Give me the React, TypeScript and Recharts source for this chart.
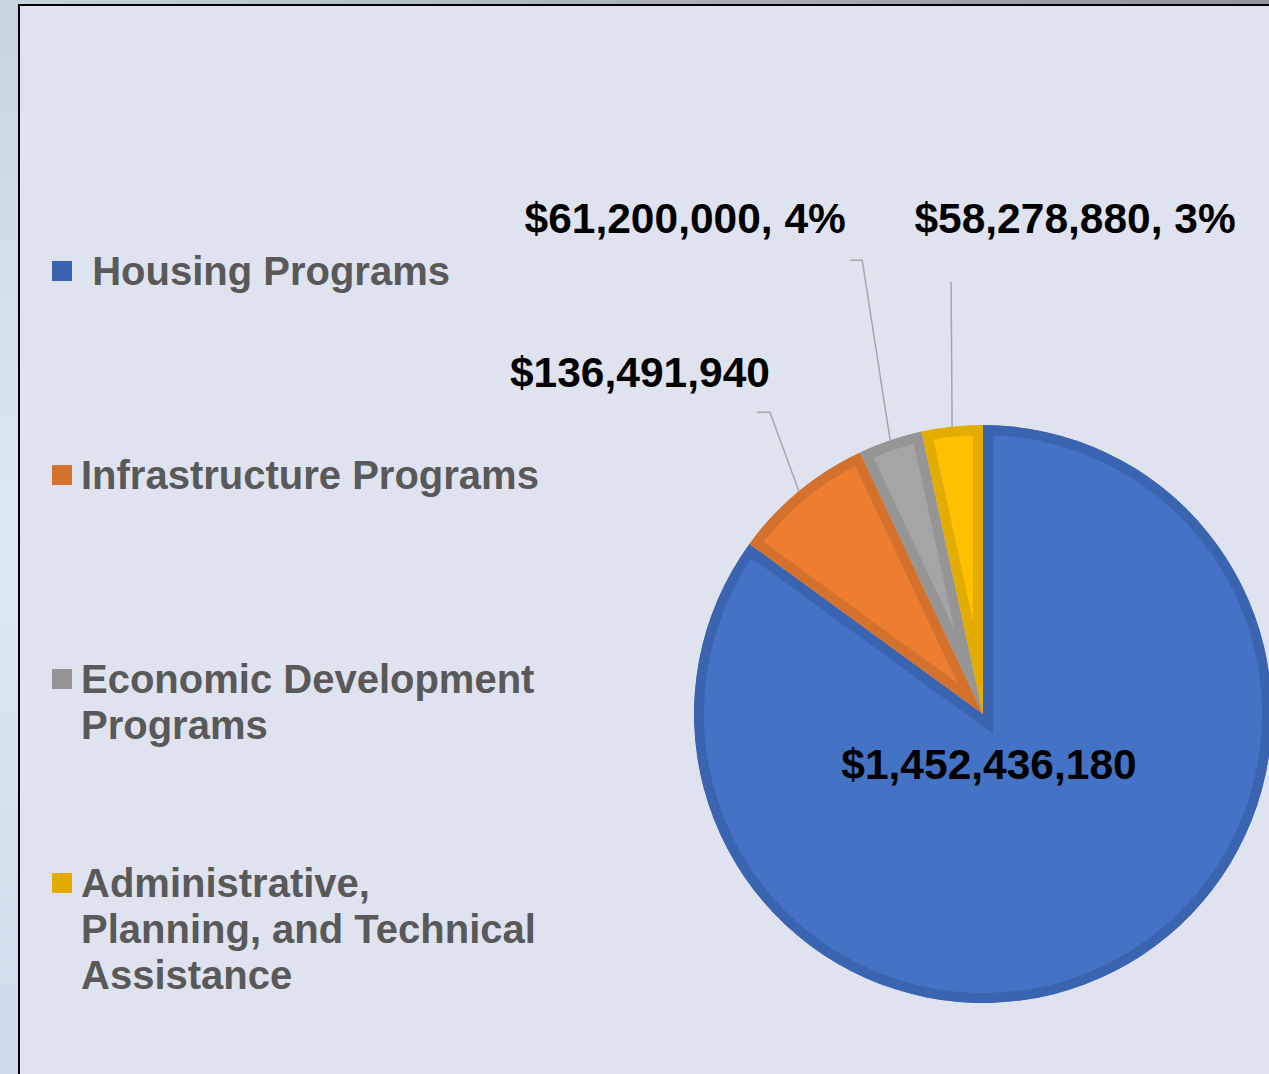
import React from "react";
import { PieChart, Pie, Cell, Legend, Sector } from "recharts";

const categories = [
  " Housing Programs",
  "Infrastructure Programs",
  "Economic Development Programs",
  "Administrative, Planning, and Technical Assistance",
];
const amounts = [1452436180, 136491940, 61200000, 58278880];
const fills = ["#4472c4", "#ed7d31", "#a5a5a5", "#ffc000"];
const borders = ["#3b64b0", "#d4722d", "#959595", "#e3ac00"];

const data = categories.map((name, i) => ({ name, value: amounts[i] }));

// label placement as dragged in the original: text baseline offset and leader elbow,
// measured from the slice's outer mid point (or the centre for the inside label)
const labelPlacement = [
  { inside: true, dx: 6, dy: 65, pct: false },
  { inside: false, elbow: [-29, -79], tail: -13, dx: -159, dy: -104, pct: false },
  { inside: false, elbow: [-28, -180], tail: -12, dx: -205, dy: -207, pct: true },
  { inside: false, elbow: [-1, -145], tail: 0, dx: 123, dy: -194, pct: true },
];

const FONT = '"Liberation Sans", Arial, sans-serif';
const RAD = Math.PI / 180;

function renderLabel(props: any) {
  const { cx, cy, midAngle, outerRadius, value, percent, index } = props;
  const p: any = labelPlacement[index];
  const text =
    "$" + Number(value).toLocaleString("en-US") + (p.pct ? `, ${Math.round(percent * 100)}%` : "");
  const textStyle = { fontFamily: FONT, fontWeight: 700, fontSize: 42.5, fill: "#000" };
  if (p.inside) {
    return (
      <text x={cx + p.dx} y={cy + p.dy} textAnchor="middle" style={textStyle}>
        {text}
      </text>
    );
  }
  const ex = cx + outerRadius * Math.cos(-midAngle * RAD);
  const ey = cy + outerRadius * Math.sin(-midAngle * RAD);
  const bx = ex + p.elbow[0];
  const by = ey + p.elbow[1];
  const pts = `${ex},${ey} ${bx},${by} ${bx + p.tail},${by}`;
  return (
    <g>
      <polyline points={pts} fill="none" stroke="#a6a6a6" strokeWidth={1.5} />
      <text x={ex + p.dx} y={ey + p.dy} textAnchor="middle" style={textStyle}>
        {text}
      </text>
    </g>
  );
}

// slice with its border drawn on the inside only (stroke clipped to the slice)
function InsetSlice(props: any) {
  const { cx, cy, innerRadius, outerRadius, startAngle, endAngle, fill, stroke, index } = props;
  const geom = { cx, cy, innerRadius, outerRadius, startAngle, endAngle };
  const id = `slice-clip-${index}`;
  return (
    <g>
      <defs>
        <clipPath id={id}>
          <Sector {...geom} />
        </clipPath>
      </defs>
      <Sector {...geom} fill={fill} stroke={stroke} strokeWidth={20} clipPath={`url(#${id})`} />
    </g>
  );
}

function LegendBlock() {
  return (
    <div style={{ position: "relative", width: 600, height: 1074 }}>
      {categories.map((name, i) => {
        const mid = 271 + i * 204;
        return (
          <div key={name}>
            <div
              style={{
                position: "absolute",
                left: 52,
                top: mid - 10,
                width: 20,
                height: 20,
                background: borders[i],
              }}
            />
            <div
              style={{
                position: "absolute",
                left: 81,
                top: mid - 23,
                width: 462,
                fontFamily: FONT,
                fontWeight: 700,
                fontSize: 40,
                lineHeight: "46px",
                color: "#595959",
                whiteSpace: "pre-wrap",
              }}
            >
              {name}
            </div>
          </div>
        );
      })}
    </div>
  );
}

export default function App() {
  return (
    <div
      style={{
        position: "absolute",
        left: 0,
        top: 0,
        width: 1269,
        height: 1074,
        overflow: "hidden",
        background: "linear-gradient(180deg, #c8d4e0 0%, #dde9f5 50%, #cfdbe8 100%)",
      }}
    >
      <div
        style={{
          position: "absolute",
          left: 0,
          top: 0,
          width: 1269,
          height: 4,
          background: "linear-gradient(90deg, #c8d4df 0%, #aab3bd 50%, #8d959e 100%)",
        }}
      />
      <div
        style={{
          position: "absolute",
          left: 18,
          top: 4,
          width: 1269,
          height: 1074,
          background: "#dfe3ef",
          borderLeft: "2px solid #000",
          borderTop: "2px solid #000",
        }}
      />
      <div style={{ position: "absolute", left: 0, top: 0 }}>
        <PieChart width={1269} height={1074} margin={{ top: 0, right: 0, bottom: 0, left: 0 }}>
          <Pie
            data={data}
            dataKey="value"
            nameKey="name"
            cx={983}
            cy={714}
            outerRadius={289}
            startAngle={90}
            endAngle={-270}
            shape={InsetSlice}
            label={renderLabel}
            labelLine={false}
            isAnimationActive={false}
          >
            {data.map((d, i) => (
              <Cell key={d.name} fill={fills[i]} stroke={borders[i]} />
            ))}
          </Pie>
          <Legend
            layout="vertical"
            align="center"
            verticalAlign="middle"
            content={() => <LegendBlock />}
            wrapperStyle={{ position: "absolute", left: 0, top: 0, width: 600, height: 1074 }}
          />
        </PieChart>
      </div>
    </div>
  );
}
